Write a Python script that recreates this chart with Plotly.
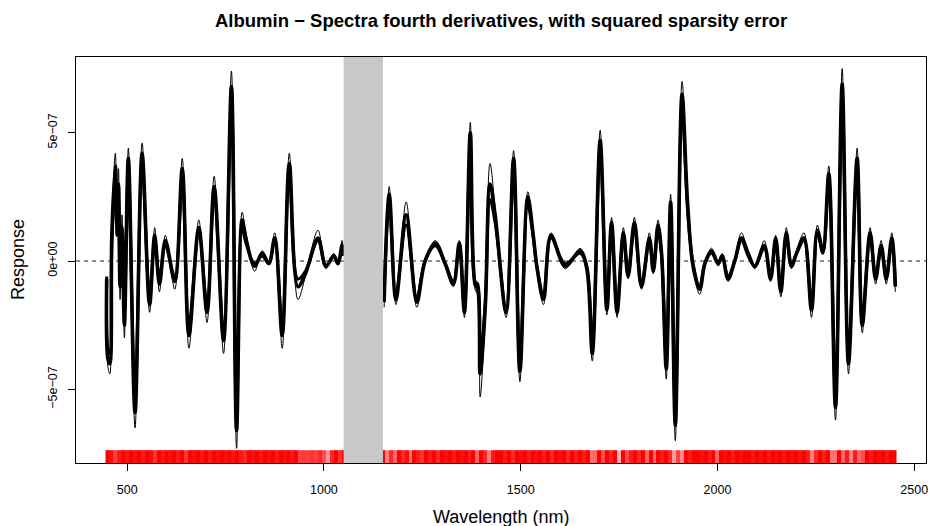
import plotly.graph_objects as go

# ---------------- data (response values in units of 1e-7) ----------------
wl_seg1 = [448, 451, 456, 461, 470, 474, 478, 482, 487, 493,
           503, 520, 538, 557, 570, 582, 597, 621, 640, 657,
           682, 703, 721, 745, 765, 778, 792, 800, 824, 843,
           860, 875, 894, 912, 934, 953, 985, 1005, 1025, 1036,
           1046, 1050]
outer_seg1 = [-0.8, -4.1, -4.4, 1.4, 4.2, 2.2, 3.6, -1.5, 1.8, -3.0,
              4.4, -6.5, 4.6, -2.0, 1.3, -1.2, 1.0, -1.1, 4.0, -3.4,
              1.6, -2.4, 3.3, -3.6, 7.4, -7.3, 1.9, 1.3, -0.4, 0.4,
              0.0, 1.1, -3.4, 4.2, -1.5, -0.6, 1.2, -0.3, 0.3, -0.1,
              0.8, 0.2]
center_seg1 = [-0.7, -3.8, -4.0, 1.0, 3.7, 1.6, 3.0, -1.0, 1.3, -2.5,
               4.0, -5.9, 4.2, -1.7, 1.0, -0.9, 0.8, -0.8, 3.6, -2.9,
               1.3, -2.0, 2.9, -3.1, 6.8, -6.6, 1.6, 1.0, -0.2, 0.3,
               -0.1, 0.9, -2.9, 3.8, -1.0, -0.5, 0.9, -0.2, 0.2, -0.1,
               0.6, 0.2]
inner_seg1 = [-0.6, -3.4, -3.6, 0.6, 3.2, 1.0, 2.4, -0.6, 0.9, -2.0,
              3.5, -5.3, 3.7, -1.4, 0.8, -0.7, 0.6, -0.6, 3.2, -2.5,
              1.1, -1.7, 2.5, -2.7, 6.1, -5.9, 1.3, 0.8, -0.1, 0.2,
              -0.1, 0.8, -2.5, 3.4, -0.7, -0.4, 0.8, -0.2, 0.2, -0.1,
              0.5, 0.2]

wl_seg2 = [1153, 1166, 1183, 1209, 1236, 1257, 1283, 1308, 1329, 1344,
           1357, 1372, 1384, 1391, 1397, 1410, 1422, 1435, 1463, 1482,
           1498, 1518, 1532, 1541, 1558, 1577, 1613, 1651, 1668, 1682,
           1702, 1719, 1731, 1745, 1761, 1773, 1789, 1807, 1827, 1837,
           1849, 1858, 1870, 1881, 1893, 1910, 1924, 1938, 1955, 1968,
           1985, 2002, 2012, 2027, 2044, 2061, 2078, 2095, 2119, 2135,
           2148, 2161, 2175, 2188, 2201, 2220, 2239, 2254, 2268, 2283,
           2300, 2317, 2333, 2355, 2368, 2388, 2402, 2416, 2429, 2443,
           2452]
outer_seg2 = [-1.8, 2.9, -1.7, 2.3, -1.8, -0.1, 0.8, -0.2, -1.0, 0.8,
              -2.2, 5.4, -1.1, -1.3, -5.3, -2.0, 3.8, 2.1, -2.2, 4.3,
              -4.7, 2.7, 1.2, -0.3, -1.7, 1.1, -0.3, 0.5, -0.4, -3.9,
              5.1, -2.1, 1.7, -2.2, 1.3, -0.7, 1.7, -1.1, 1.1, -0.5,
              1.6, 0.3, -4.6, 2.6, -7.0, 7.0, 2.6, -0.3, -1.3, -0.2,
              0.5, -0.2, 0.3, -0.8, 0.1, 1.1, 0.3, -0.3, 0.8, -0.8,
              1.0, -1.4, 1.3, -0.3, 0.4, 1.1, -2.2, 1.4, 0.5, 3.7,
              -6.2, 7.5, -4.4, 4.4, -2.8, 1.3, -0.9, 0.8, -0.9, 1.1,
              -1.2]
center_seg2 = [-1.6, 2.6, -1.5, 1.8, -1.6, 0.0, 0.7, -0.1, -0.9, 0.7,
               -2.0, 5.0, -0.9, -1.1, -4.4, -1.8, 3.0, 1.8, -2.0, 4.0,
               -4.3, 2.5, 1.0, -0.2, -1.5, 1.0, -0.2, 0.4, -0.3, -3.6,
               4.7, -1.9, 1.5, -2.0, 1.1, -0.6, 1.5, -1.0, 0.9, -0.4,
               1.4, 0.3, -4.2, 2.3, -6.4, 6.5, 2.3, -0.2, -1.1, -0.1,
               0.4, -0.1, 0.2, -0.7, 0.0, 0.9, 0.3, -0.2, 0.6, -0.7,
               0.9, -1.2, 1.1, -0.2, 0.3, 0.9, -1.9, 1.2, 0.4, 3.4,
               -5.7, 6.9, -4.0, 4.0, -2.5, 1.1, -0.7, 0.6, -0.7, 0.9,
               -1.0]
inner_seg2 = [-1.4, 2.3, -1.3, 1.4, -1.4, 0.0, 0.6, -0.1, -0.8, 0.6,
              -1.8, 4.5, -0.8, -0.9, -3.9, -1.6, 2.4, 1.5, -1.8, 3.6,
              -3.9, 2.2, 0.9, -0.2, -1.3, 0.9, -0.1, 0.3, -0.2, -3.3,
              4.3, -1.7, 1.3, -1.8, 1.0, -0.5, 1.3, -0.9, 0.8, -0.3,
              1.2, 0.2, -3.8, 2.0, -5.9, 6.0, 2.0, -0.1, -1.0, -0.1,
              0.3, -0.1, 0.2, -0.6, 0.0, 0.8, 0.2, -0.2, 0.5, -0.6,
              0.8, -1.1, 1.0, -0.2, 0.3, 0.8, -1.7, 1.1, 0.3, 3.1,
              -5.2, 6.3, -3.6, 3.7, -2.3, 1.0, -0.6, 0.5, -0.6, 0.8,
              -0.9]

# squared sparsity error intensity (1 = full red), one cell per 10 nm, centres 450..2450
err_wl_edges = [445 + 10 * i for i in range(202)]
err_intensity = [
    1, 0.95, 0.75, 0.9, 1, 0.92, 1, 0.95, 1, 0.9,
    1, 0.95, 0.8, 1, 0.92, 1, 0.95, 1, 0.9, 1,
    0.8, 1, 0.95, 1, 0.92, 1, 0.9, 1, 0.95, 1,
    0.95, 1, 0.92, 1, 0.9, 0.85, 1, 0.95, 1, 0.92,
    1, 0.95, 1, 0.9, 1, 0.95, 1, 0.92, 1, 0.75,
    0.78, 0.75, 0.8, 0.75, 0.85, 0.7, 0.4, 0.85, 1, 0.8,
    1, 1, 1, 1, 1, 1, 1, 1, 1, 1,
    1, 0.5, 0.85, 0.6, 1, 0.85, 0.95, 0.55, 1, 0.9,
    0.8, 1, 0.9, 1, 0.85, 1, 0.95, 1, 0.9, 1,
    0.95, 1, 0.9, 1, 0.6, 1, 0.85, 0.5, 0.9, 1,
    1, 0.9, 1, 0.85, 1, 0.95, 1, 0.9, 1, 0.95,
    1, 0.9, 1, 0.85, 1, 0.95, 1, 0.85, 1, 0.9,
    1, 0.9, 1, 0.55, 0.6, 1, 0.7, 1, 0.85, 1,
    0.3, 1, 0.7, 0.9, 1, 0.85, 1, 0.6, 1, 0.6,
    1, 0.9, 1, 0.85, 0.4, 0.75, 0.45, 1, 0.9, 1,
    1, 0.95, 1, 0.9, 1, 0.6, 1, 0.95, 1, 0.9,
    1, 0.95, 1, 1, 0.92, 1, 0.95, 1, 0.92, 1,
    0.95, 1, 0.92, 1, 0.95, 1, 0.92, 1, 0.9, 0.5,
    0.85, 1, 0.9, 1, 0.55, 0.55, 1, 0.6, 0.9, 0.5,
    0.9, 0.6, 0.7, 1, 0.9, 1, 0.95, 1, 0.92, 1,
    1,
]
err_band_edges = [-7.86, -7.37]  # units of 1e-7

excluded_region = [1050, 1150]
x_range = [370, 2530]
y_range = [-7.87, 7.95]
y_tick_vals = [-5, 0, 5]
y_tick_text = ["\u22125e\u221207", "0e+00", "5e\u221207"]
x_tick_vals = [500, 1000, 1500, 2000, 2500]

SCALE = 1e-7
FONT = "Liberation Sans, Arial, Helvetica, sans-serif"


def scaled(vals):
    return [v * SCALE for v in vals]


fig = go.Figure()

# red sparsity-error strip
fig.add_trace(go.Heatmap(
    x=err_wl_edges,
    y=scaled(err_band_edges),
    z=[err_intensity],
    zmin=0, zmax=1,
    colorscale=[[0, "#FFFFFF"], [1, "#FF0000"]],
    showscale=False, hoverinfo="skip",
))

# spectra
for seg_x, segs in [(wl_seg1, (outer_seg1, center_seg1, inner_seg1)),
                    (wl_seg2, (outer_seg2, center_seg2, inner_seg2))]:
    outer, center, inner = segs
    for vals, width in [(outer, 1.0), (inner, 3.0), (center, 3.6)]:
        fig.add_trace(go.Scatter(
            x=seg_x, y=scaled(vals), mode="lines",
            line=dict(color="black", width=width, shape="spline", smoothing=1.0),
            showlegend=False, hoverinfo="skip",
        ))

# zero dashed reference line
fig.add_shape(type="line", xref="paper", yref="y", x0=0, x1=1, y0=0, y1=0,
              line=dict(color="#222222", width=1, dash="4px,4px"), layer="below")

# excluded wavelength band
fig.add_shape(type="rect", xref="x", yref="paper",
              x0=excluded_region[0], x1=excluded_region[1], y0=0, y1=1,
              fillcolor="#C8C8C8", line=dict(width=0), layer="above")

fig.update_layout(
    width=936, height=526,
    margin=dict(l=76, r=8, t=57, b=63),
    paper_bgcolor="white", plot_bgcolor="white",
    font=dict(family=FONT, size=12, color="black"),
    showlegend=False,
)
fig.update_xaxes(
    range=x_range, tickvals=x_tick_vals, ticks="outside", ticklen=7,
    tickcolor="black", showline=True, linecolor="black", linewidth=1, mirror=True,
    showgrid=False, zeroline=False, tickfont=dict(size=12.5), ticklabelstandoff=8,
)
fig.update_yaxes(
    range=[y_range[0] * SCALE, y_range[1] * SCALE],
    tickvals=scaled(y_tick_vals), ticktext=y_tick_text, tickangle=-90,
    ticks="outside", ticklen=7, tickcolor="black",
    showline=True, linecolor="black", linewidth=1, mirror=True,
    showgrid=False, zeroline=False, tickfont=dict(size=12.5), ticklabelstandoff=6,
)

fig.add_annotation(text="<b>Albumin \u2212 Spectra fourth derivatives, with squared sparsity error</b>",
                   xref="paper", yref="paper", x=0.5, y=1, yshift=37,
                   xanchor="center", yanchor="middle", showarrow=False,
                   font=dict(size=18.5, family=FONT, color="black"))
fig.add_annotation(text="Wavelength (nm)", xref="paper", yref="paper", x=0.5, y=0,
                   yshift=-54, xanchor="center", yanchor="middle", showarrow=False,
                   font=dict(size=18, family=FONT, color="black"))
fig.add_annotation(text="Response", xref="paper", yref="paper", x=0, y=0.5,
                   xshift=-58, xanchor="center", yanchor="middle", textangle=-90,
                   showarrow=False, font=dict(size=18, family=FONT, color="black"))

fig.write_html("out.html")
